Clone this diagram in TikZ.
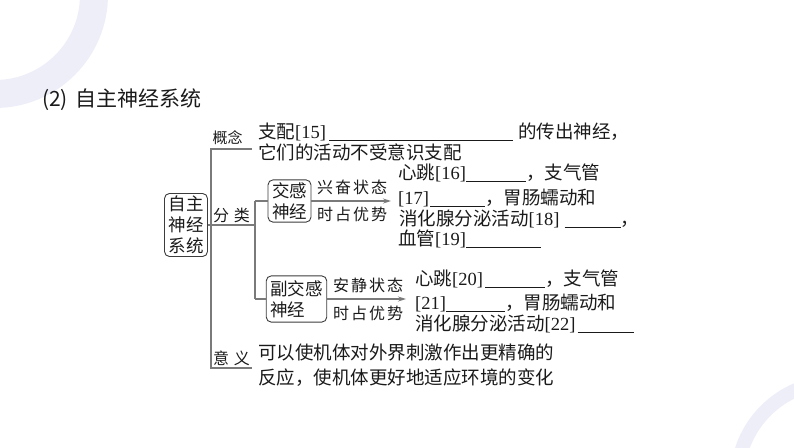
\documentclass[tikz,border=0pt]{standalone}
\usepackage{fontspec}
\setmainfont{Noto Sans CJK SC}
\newfontfamily\tnr{Liberation Serif}
\usetikzlibrary{arrows.meta}
\newcommand\bk[1]{{\tnr[#1]}}
\newcommand\bl[1]{\rule[-2.2pt]{#1pt}{0.6pt}}
\definecolor{lav}{HTML}{EEEEF9}
\definecolor{lc}{HTML}{7A7A7A}
\definecolor{tx}{HTML}{1A1A1A}
\begin{document}
\begin{tikzpicture}[x=1pt,y=-1pt,
 txt/.style={anchor=west,inner sep=0pt,text=tx,font=\fontsize{18.5}{22}\selectfont},
 lab/.style={inner sep=0pt,text=tx,font=\fontsize{16}{18}\selectfont},
 conn/.style={draw=lc,line width=1.1pt},
 tip/.style={-{Stealth[length=8pt,width=5pt]}},
 bx/.style={draw=tx!85,rounded corners=5pt,line width=0.9pt,inner xsep=4pt,inner ysep=2.5pt,text=tx,font=\fontsize{17.5}{21}\selectfont}]
\useasboundingbox (0,0) rectangle (794,447);
% decorations
\begin{scope}
\clip (0,0) rectangle (794,447);
\draw[lav,line width=28pt] (-5,-5) circle[radius=99pt];
\draw[lav,line width=14pt] (835,480) circle[radius=98pt];
\end{scope}
% title
\node[anchor=west,inner sep=0pt,text=tx,font=\fontsize{21}{24}\selectfont] (title) at (42,100) {(2)\hspace{7pt}自主神经系统};
% boxes
\node[bx,align=center] (root) at (186,225) {自主\\神经\\系统};
\node[bx,align=center] (jg) at (289.5,201) {交感\\神经};
\node[bx,align=left,inner ysep=4.5pt] (fjg) at (296.5,299) {副交感\\神经};
% coordinates
\coordinate (t1) at (211,149);
\coordinate (t2) at (252,149);
\coordinate (b1) at (211,368);
\coordinate (b2) at (252,368);
\coordinate (f1) at (255,225);
\coordinate (v1) at (255,201);
\coordinate (v2) at (255,299);
\coordinate (a1) at (391,201);
\coordinate (a2) at (406,299);
% connectors
\draw[conn] (t2) -- (t1) -- (b1) -- (b2);
\draw[conn] (root.east) -- (f1);
\draw[conn] (v1) -- (v2);
\draw[conn] (v1) -- (jg.west);
\draw[conn] (v2) -- (fjg.west);
\draw[conn,tip] (jg.east) -- (a1);
\draw[conn,tip] (fjg.east) -- (a2);
% branch labels
\node[lab,font=\fontsize{15}{18}\selectfont] (gn) at (227.5,138) {概念};
\node[lab] (fl) at (231.5,215) {分\hspace{5pt}类};
\node[lab] (yy) at (231.5,358) {意\hspace{5pt}义};
% arrow labels
\node[lab] (x1) at (352,187) {兴\hspace{2pt}奋\hspace{2pt}状\hspace{2pt}态};
\node[lab] (x2) at (352,214) {时\hspace{2pt}占\hspace{2pt}优\hspace{2pt}势};
\node[lab] (y1) at (368,285) {安\hspace{2pt}静\hspace{2pt}状\hspace{2pt}态};
\node[lab] (y2) at (368,313) {时\hspace{2pt}占\hspace{2pt}优\hspace{2pt}势};
% concept text
\node[txt] (c1) at (258,132) {支配\bk{15}\hspace{3pt}\bl{184}\hspace{5pt}的传出神经，};
\node[txt] (c2) at (258,152) {它们的活动不受意识支配};
% sympathetic
\node[txt] (s1) at (398,173) {心跳\bk{16}\bl{60}，支气管};
\node[txt] (s2) at (398,198) {\bk{17}\hspace{1pt}\bl{55}，胃肠蠕动和};
\node[txt] (s3) at (399,219) {消化腺分泌活动\bk{18}\hspace{5pt}\bl{56}，};
\node[txt] (s4) at (398,239) {血管\bk{19}\bl{75}};
% parasympathetic
\node[txt] (p1) at (415,279) {心跳\bk{20}\hspace{2pt}\bl{60}，支气管};
\node[txt] (p2) at (415,303) {\bk{21}\bl{59}，胃肠蠕动和};
\node[txt] (p3) at (415,324) {消化腺分泌活动\bk{22}\hspace{2pt}\bl{56}};
% significance
\node[txt] (m1) at (258,352) {可以使机体对外界刺激作出更精确的};
\node[txt] (m2) at (258,378) {反应，使机体更好地适应环境的变化};
\end{tikzpicture}
\end{document}
